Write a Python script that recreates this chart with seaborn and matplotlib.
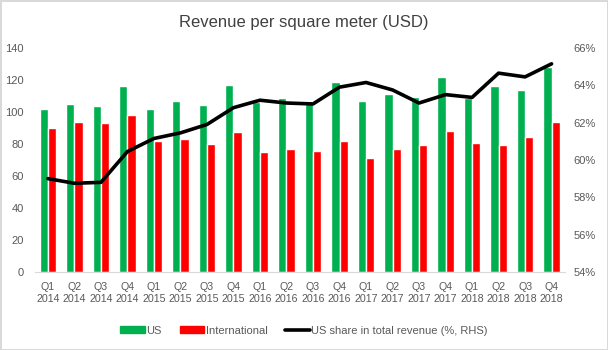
import numpy as np
import pandas as pd
import seaborn as sns
import matplotlib.pyplot as plt
from matplotlib.lines import Line2D
from matplotlib.patches import Patch

# data
quarters = ['Q1', 'Q2', 'Q3', 'Q4'] * 5
years = [y for y in ['2014', '2015', '2016', '2017', '2018'] for _ in range(4)]
labels = [f'{q}\n{y}' for q, y in zip(quarters, years)]
us = [102, 105, 103.5, 116.5, 102, 107, 104.5, 117, 106.5, 109, 106.5, 119,
      107, 111.5, 109.5, 122, 108.5, 116.5, 113.5, 128]
intl = [90, 93.5, 93, 98, 82, 83, 80, 87.5, 75, 77, 75.5, 82,
        71.5, 77, 79.5, 88, 80.5, 79.5, 84.5, 93.5]
us_share = [59.0, 58.75, 58.8, 60.45, 61.15, 61.45, 61.9, 62.8, 63.2, 63.05,
            63.0, 63.9, 64.15, 63.75, 63.05, 63.5, 63.35, 64.65, 64.45, 65.15]

df = pd.DataFrame({'Quarter': labels, 'US': us, 'International': intl})
long_df = df.melt(id_vars='Quarter', var_name='Region', value_name='Revenue')

sns.set_style('white')
plt.rcParams['font.family'] = ['Liberation Sans', 'DejaVu Sans']
grey = '#595959'

fig = plt.figure(figsize=(6.08, 3.5), dpi=100)
fig.patch.set_edgecolor('#d9d9d9')
fig.patch.set_linewidth(2)
ax = fig.add_axes([0.057, 0.223, 0.872, 0.64])

palette = {'US': '#00b050', 'International': '#ff0000'}
sns.barplot(data=long_df, x='Quarter', y='Revenue', hue='Region', palette=palette,
            width=0.62, saturation=1, ax=ax, legend=False)
ax.set_ylim(0, 140)
ax.set_xlim(-0.5, len(labels) - 0.5)
ax.set_yticks(range(0, 141, 20))
ax.set_xlabel('')
ax.set_ylabel('')
for s in ['top', 'right', 'left']:
    ax.spines[s].set_visible(False)
ax.spines['bottom'].set_color('#d9d9d9')
ax.tick_params(axis='both', colors=grey, labelsize=8, length=0)
ax.tick_params(axis='x', pad=7)
ax.tick_params(axis='y', pad=8)
for t in ax.get_xticklabels():
    t.set_linespacing(1.35)
    t.set_fontsize(7.7)

ax2 = ax.twinx()
sns.lineplot(x=np.arange(len(labels)), y=us_share, color='black', linewidth=2.6, ax=ax2)
ax2.set_ylim(54, 66)
ax2.set_yticks(range(54, 67, 2))
ax2.set_yticklabels([f'{v}%' for v in range(54, 67, 2)])
for s in ax2.spines.values():
    s.set_visible(False)
ax2.tick_params(axis='y', colors=grey, labelsize=8, length=0, pad=6)

fig.text(0.5, 0.935, 'Revenue per square meter (USD)', ha='center', va='center',
         fontsize=12, color='#404040')

handles = [Patch(color='#00b050'), Patch(color='#ff0000'),
           Line2D([], [], color='black', linewidth=2.6)]
fig.legend(handles, ['US', 'International', 'US share in total revenue (%, RHS)'],
           loc='center', bbox_to_anchor=(0.5, 0.055), ncol=3, frameon=False,
           fontsize=8, labelcolor=grey, handlelength=2.2, handleheight=0.6,
           handletextpad=0.15, columnspacing=1.6)

plt.savefig('out.png', dpi=100)
plt.close()
